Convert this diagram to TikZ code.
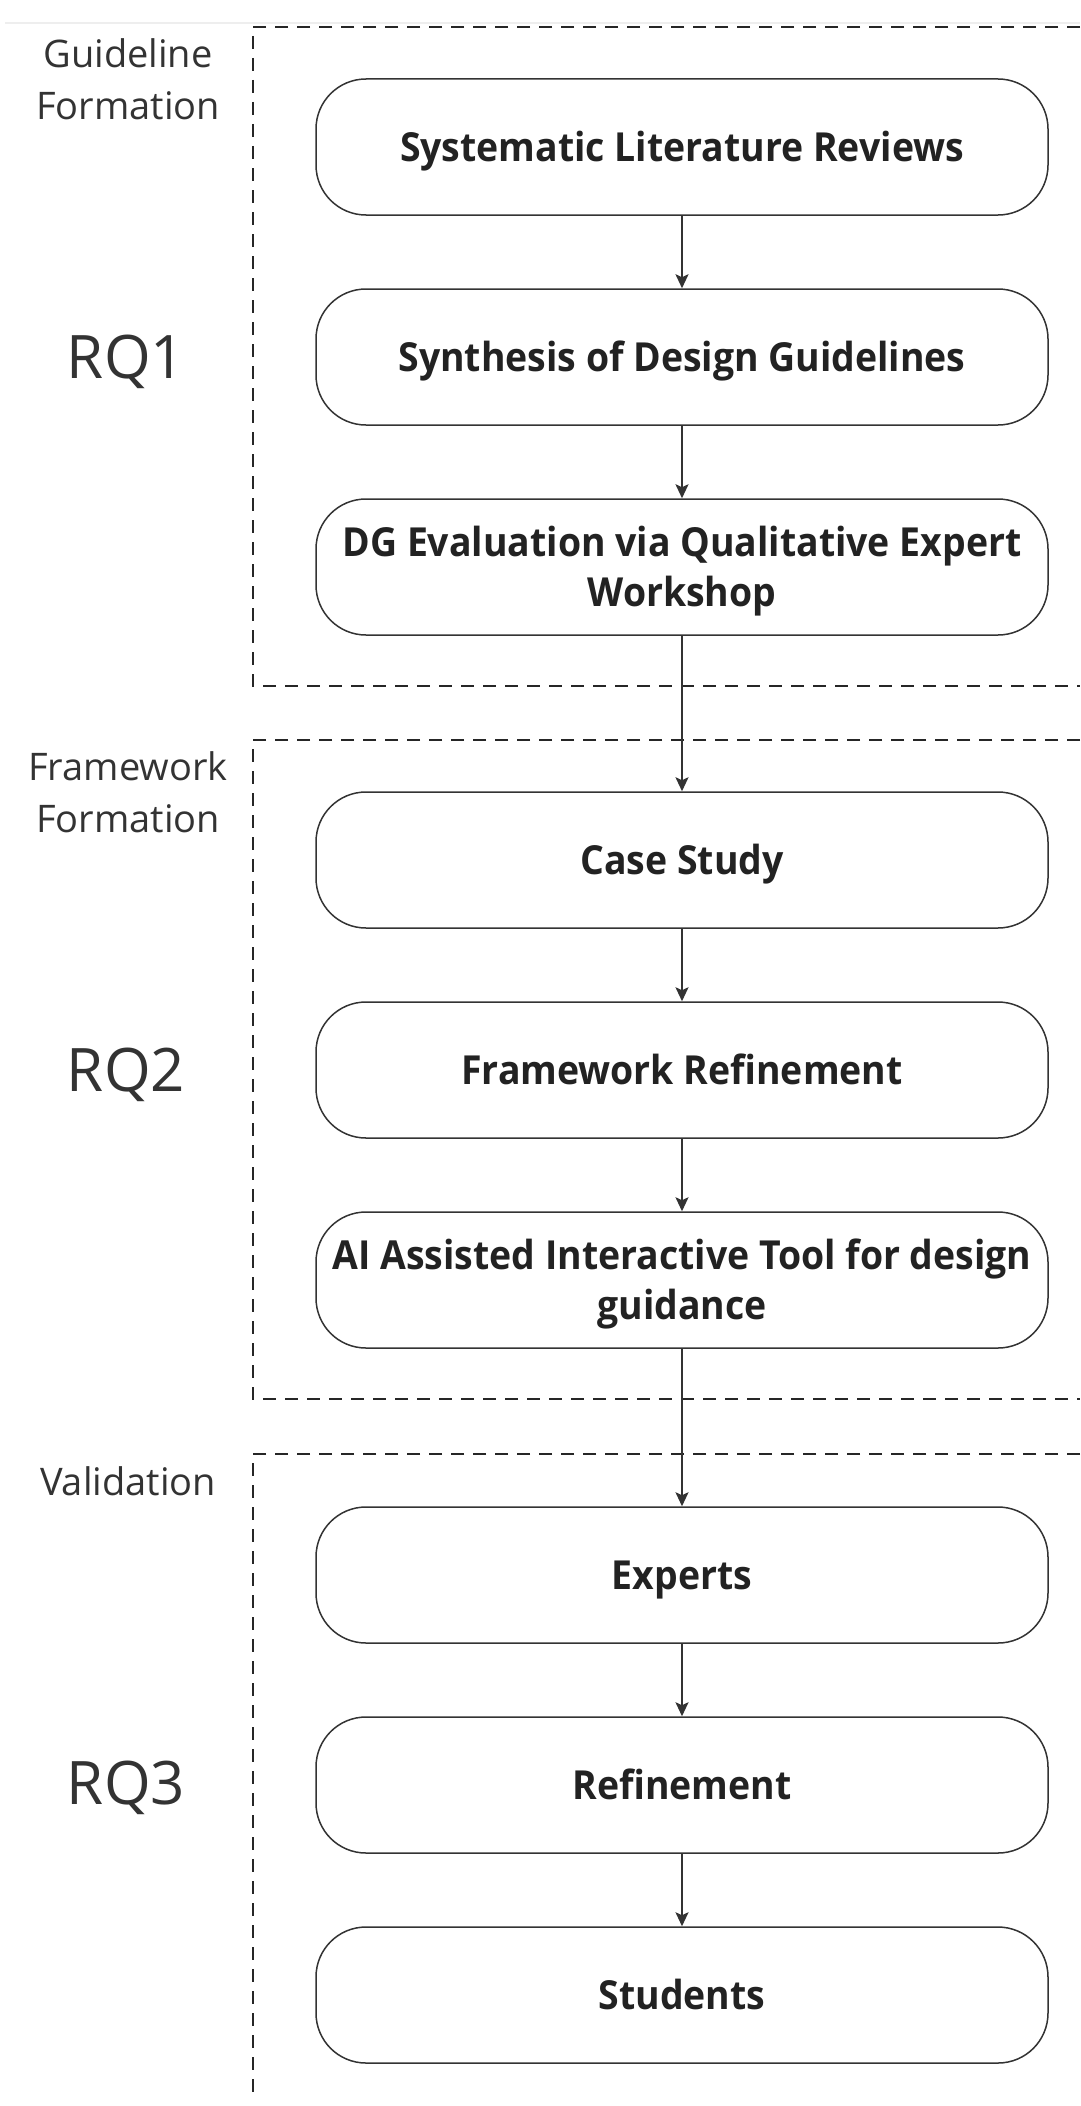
\documentclass[tikz,border=0pt]{standalone}
\usepackage{fontspec}
\setmainfont{Open Sans}
\newfontfamily\stepfont{Open Sans}[FakeStretch=0.935]
\usetikzlibrary{arrows.meta}
\definecolor{ink}{HTML}{222222}
\definecolor{linec}{HTML}{333333}
\definecolor{labelc}{HTML}{333333}
\definecolor{topline}{HTML}{EEEEEE}
\begin{document}
\begin{tikzpicture}[x=1pt,y=-1pt,
  stepbox/.style={draw=linec, line width=1.5pt, rounded corners=50pt,
    minimum width=732pt, minimum height=136pt, inner sep=0pt, align=center,
    font=\stepfont\fontsize{40}{50}\selectfont\bfseries, text=ink,
    text height=28.5pt, text depth=0pt},
  twoline/.style={text height=78.5pt},
  grouplabel/.style={font=\fontsize{38}{52}\selectfont, text=labelc, align=center,
    inner sep=0pt, text height=27pt, text depth=0pt},
  rqlabel/.style={font=\fontsize{60}{70}\selectfont, text=labelc,
    inner sep=0pt, text height=43pt, text depth=0pt},
  groupbox/.style={draw=black!85, line width=2.5pt, dash pattern=on 13pt off 9pt},
  flow/.style={draw=linec, line width=2pt, -{Stealth[length=14pt,width=13pt,inset=3pt]}}]
\useasboundingbox (0,0) rectangle (1080,2106);
\fill[white] (0,0) rectangle (1080,2106);
\draw[topline, line width=1.5pt] (5,23) -- (1080,23);

% group frames
\draw[groupbox] (1080,27) -- (253,27) -- (253,686) -- (1080,686);
\draw[groupbox] (1080,740) -- (253,740) -- (253,1399) -- (1080,1399);
\draw[groupbox] (1080,1454) -- (253,1454) -- (253,2097);

% group labels
\node[grouplabel, text height=79pt] (g1) at (128,80) {Guideline\\Formation};
\node[grouplabel, text height=79pt] (g2) at (128,792.5) {Framework\\Formation};
\node[grouplabel] (g3) at (128,1481.5) {Validation};

\node[rqlabel] (rq1) at (126,356.5) {RQ1};
\node[rqlabel] (rq2) at (126,1069.5) {RQ2};
\node[rqlabel] (rq3) at (126,1782.5) {RQ3};

% steps
\node[stepbox] (n1) at (682,147) {Systematic Literature Reviews};
\node[stepbox] (n2) at (682,357) {Synthesis of Design Guidelines};
\node[stepbox, twoline] (n3) at (682,567) {DG Evaluation via Qualitative Expert\\Workshop};
\node[stepbox] (n4) at (682,860) {Case Study};
\node[stepbox] (n5) at (682,1070) {Framework Refinement};
\node[stepbox, twoline] (n6) at (682,1280) {AI Assisted Interactive Tool for design\\guidance};
\node[stepbox] (n7) at (682,1575) {Experts};
\node[stepbox] (n8) at (682,1785) {Refinement};
\node[stepbox] (n9) at (682,1995) {Students};

\draw[flow] (n1) -- (n2);
\draw[flow] (n2) -- (n3);
\draw[flow] (n3) -- (n4);
\draw[flow] (n4) -- (n5);
\draw[flow] (n5) -- (n6);
\draw[flow] (n6) -- (n7);
\draw[flow] (n7) -- (n8);
\draw[flow] (n8) -- (n9);
\end{tikzpicture}
\end{document}
